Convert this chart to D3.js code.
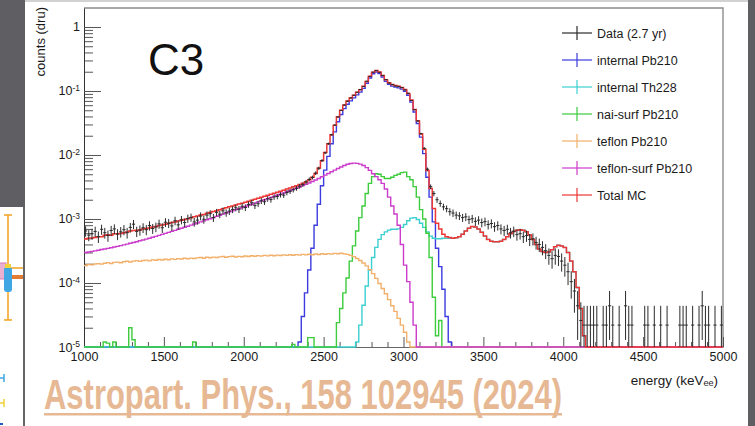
<!DOCTYPE html>
<html>
<head>
<meta charset="utf-8">
<script src="https://cdn.jsdelivr.net/npm/d3@7"></script>
<style>
  html, body { margin: 0; padding: 0; background: #fff; }
  svg { display: block; }
  text { font-family: "Liberation Sans", Arial, Helvetica, sans-serif; }
</style>
</head>
<body>
<svg id="chart" width="755" height="426"></svg>
<script>
// ---------------- data ----------------
// energy binning (keV_ee), 20 keV bins from 1000 to 5000
const energyMin = 1000, energyMax = 5000, binWidth = 20;
const countsMin = 1e-5, countsMax = 1.98;
const energyTickLabels = [1000, 1500, 2000, 2500, 3000, 3500, 4000, 4500, 5000];
const countsTickExponents = [0, -1, -2, -3, -4, -5];
// dru corresponding to a single event in one bin (sets the statistical error bars)
const druPerCount = 2.2e-5;

// measured spectrum, C3 crystal, 2.7 yr (dru), one value per bin starting at 1000 keV
const dataCounts = [
  6.5e-4, 5.6e-4, 5.9e-4, 6.4e-4, 5.3e-4, 6.9e-4, 6.1e-4, 5.5e-4, 6.6e-4, 7.0e-4,
  5.8e-4, 6.3e-4, 6.8e-4, 6.1e-4, 7.4e-4, 8.3e-4, 6.4e-4, 6.7e-4, 7.3e-4, 6.8e-4,
  7.9e-4, 7.1e-4, 7.5e-4, 8.4e-4, 7.3e-4, 8.9e-4, 8.6e-4, 7.8e-4, 9.4e-4, 8.1e-4,
  9.7e-4, 8.8e-4, 1.02e-3, 1.06e-3, 9.0e-4, 9.6e-4, 1.11e-3, 9.9e-4, 1.15e-3, 1.21e-3,
  1.05e-3, 1.27e-3, 1.19e-3, 1.34e-3, 1.25e-3, 1.33e-3, 1.41e-3, 1.50e-3, 1.42e-3, 1.58e-3,
  1.51e-3, 1.69e-3, 1.80e-3, 1.62e-3, 1.73e-3, 1.92e-3, 1.86e-3, 2.07e-3, 2.01e-3, 2.21e-3,
  2.25e-3, 2.40e-3, 2.36e-3, 2.59e-3, 2.70e-3, 2.85e-3, 3.02e-3, 3.25e-3, 3.45e-3, 3.78e-3,
  4.15e-3, 4.45e-3, 5.2e-3, 6.2e-3, 8.2e-3, 1.08e-2, 1.50e-2, 2.07e-2, 2.92e-2, 3.93e-2,
  4.97e-2, 6.02e-2, 6.93e-2, 7.8e-2, 8.58e-2, 9.55e-2, 0.105, 0.118, 0.142, 0.169,
  0.197, 0.209, 0.196, 0.175, 0.151, 0.133, 0.126, 0.120, 0.118, 0.113,
  0.104, 0.092, 0.071, 0.051, 0.034, 0.0215, 0.0127, 0.0060, 0.0032,
  2.5e-3, 2.0e-3, 1.75e-3, 1.55e-3, 1.45e-3, 1.30e-3, 1.24e-3, 1.15e-3, 1.12e-3, 1.05e-3,
  1.08e-3, 9.8e-4, 1.01e-3, 9.2e-4, 9.6e-4, 8.8e-4, 9.1e-4, 8.2e-4, 8.5e-4, 7.6e-4,
  7.9e-4, 7.0e-4, 6.6e-4, 6.9e-4, 6.1e-4, 6.4e-4, 5.7e-4, 5.9e-4, 5.3e-4, 5.5e-4,
  4.8e-4, 4.9e-4, 4.3e-4, 4.0e-4, 3.6e-4, 3.2e-4, 2.7e-4, 2.4e-4, 2.7e-4, 2.6e-4,
  2.2e-4, 1.9e-4, 1.5e-4, 1.05e-4, 7.5e-5, 4.4e-5, 2.6e-5, 2.2e-5,
  2.2e-5, 2.2e-5, 2.2e-5, 2.2e-5, 0, 2.2e-5, 2.2e-5, 4.4e-5, 2.2e-5, 0,
  2.2e-5, 0, 4.4e-5, 2.2e-5, 2.2e-5, 0, 0, 0, 2.2e-5, 2.2e-5,
  0, 2.2e-5, 0, 2.2e-5, 0, 2.2e-5, 0, 0, 0, 2.2e-5,
  2.2e-5, 2.2e-5, 0, 2.2e-5, 0, 2.2e-5, 4.4e-5, 2.2e-5, 2.2e-5, 0,
  2.2e-5, 0, 2.2e-5
];

// internal Pb210 (dru), bins from 2340 keV
const internalPb210Start = 2340;
const internalPb210 = [
  1.2e-5, 3e-5, 7e-5, 1.6e-4, 3.5e-4, 8e-4, 1.7e-3, 3.3e-3, 5.8e-3, 9.5e-3,
  1.5e-2, 2.3e-2, 3.3e-2, 4.3e-2, 5.3e-2, 6.2e-2, 7.0e-2, 7.8e-2, 8.7e-2, 9.6e-2,
  0.110, 0.132, 0.160, 0.186, 0.198, 0.188, 0.165, 0.142, 0.127, 0.119,
  0.115, 0.112, 0.107, 0.099, 0.086, 0.067, 0.047, 0.031, 0.019, 0.0105,
  4.5e-3, 2.2e-3, 9e-4, 3.5e-4, 1.8e-4, 8e-5, 3e-5, 1.2e-5
];

// internal Th228 (dru), bins from 2700 keV
const internalTh228Start = 2700;
const internalTh228 = [
  1.2e-5, 2.2e-5, 4.5e-5, 9e-5, 1.6e-4, 2.5e-4, 3.6e-4, 4.8e-4, 5.7e-4, 6.3e-4,
  6.7e-4, 6.9e-4, 6.9e-4, 7.0e-4, 7.4e-4, 8.2e-4, 9.4e-4, 1.03e-3, 1.05e-3, 9.8e-4,
  8.6e-4, 7.4e-4, 6.3e-4, 5.4e-4, 5.0e-4, 4.9e-4, 4.9e-4, 5.0e-4, 5.0e-4, 5.0e-4,
  5.0e-4, 5.1e-4, 5.3e-4, 5.8e-4, 6.5e-4, 7.2e-4, 7.6e-4, 7.5e-4, 7.0e-4, 6.2e-4,
  5.4e-4, 4.8e-4, 4.5e-4, 4.4e-4, 4.4e-4, 4.5e-4, 4.8e-4, 5.3e-4, 5.9e-4, 6.4e-4,
  6.7e-4, 6.8e-4, 6.7e-4, 6.3e-4, 5.6e-4, 4.8e-4, 4.0e-4, 3.4e-4, 3.1e-4, 3.0e-4,
  3.05e-4, 3.3e-4, 3.7e-4, 3.9e-4, 3.8e-4, 3.6e-4, 3.0e-4, 2.2e-4, 1.5e-4, 8.5e-5,
  4e-5, 1.5e-5
];

// NaI surface Pb210 (dru): main peak from 2560 keV plus isolated low-energy bins
const naiSurfPb210Start = 2560;
const naiSurfPb210 = [
  0, 2.4e-5, 4e-5, 7e-5, 1.2e-4, 2.2e-4, 3.8e-4, 6.5e-4, 1.05e-3, 1.6e-3,
  2.5e-3, 3.6e-3, 4.6e-3, 5.1e-3, 5.0e-3, 4.6e-3, 4.3e-3, 4.3e-3, 4.5e-3, 4.8e-3,
  5.0e-3, 5.3e-3, 5.4e-3, 4.6e-3, 4.1e-3, 3.2e-3, 2.2e-3, 1.4e-3, 1.0e-3, 6e-4,
  2.5e-4, 6e-5, 1.5e-5, 2.6e-5
];
const naiSurfLowBins = [1120, 1140, 1180, 1280, 1300, 1680, 2300, 2400, 2420];
const naiSurfLowValues = [1.2e-5, 1.15e-5, 1.2e-5, 2.0e-5, 1.3e-5, 1.2e-5, 1.1e-5, 1.4e-5, 1.4e-5];

// teflon bulk Pb210 (dru), bins from 1000 keV
const teflonPb210Start = 1000;
const teflonPb210 = [
  1.88e-4, 1.95e-4, 1.92e-4, 1.98e-4, 2.01e-4, 1.97e-4, 2.04e-4, 2.08e-4, 2.02e-4, 2.10e-4,
  2.12e-4, 2.07e-4, 2.15e-4, 2.19e-4, 2.13e-4, 2.20e-4, 2.24e-4, 2.18e-4, 2.25e-4, 2.28e-4,
  2.22e-4, 2.30e-4, 2.27e-4, 2.33e-4, 2.29e-4, 2.35e-4, 2.31e-4, 2.38e-4, 2.34e-4, 2.40e-4,
  2.37e-4, 2.43e-4, 2.39e-4, 2.45e-4, 2.41e-4, 2.47e-4, 2.50e-4, 2.44e-4, 2.52e-4, 2.48e-4,
  2.54e-4, 2.50e-4, 2.56e-4, 2.60e-4, 2.53e-4, 2.58e-4, 2.62e-4, 2.55e-4, 2.61e-4, 2.57e-4,
  2.64e-4, 2.59e-4, 2.66e-4, 2.62e-4, 2.68e-4, 2.63e-4, 2.70e-4, 2.65e-4, 2.71e-4, 2.67e-4,
  2.73e-4, 2.69e-4, 2.75e-4, 2.70e-4, 2.76e-4, 2.72e-4, 2.78e-4, 2.73e-4, 2.80e-4, 2.75e-4,
  2.81e-4, 2.77e-4, 2.84e-4, 2.79e-4, 2.86e-4, 2.81e-4, 2.88e-4, 2.83e-4, 2.90e-4, 2.86e-4,
  2.91e-4, 2.85e-4, 2.80e-4, 2.70e-4, 2.58e-4, 2.42e-4, 2.25e-4, 2.05e-4, 1.85e-4, 1.62e-4,
  1.40e-4, 1.18e-4, 9.8e-5, 8.2e-5, 6.8e-5, 5.5e-5, 4.4e-5, 3.6e-5, 2.8e-5, 2.2e-5,
  1.7e-5, 1.2e-5
];

// teflon surface Pb210 (dru), bins from 1000 keV
const teflonSurfPb210Start = 1000;
const teflonSurfPb210 = [
  3.00e-4, 3.05e-4, 3.12e-4, 3.18e-4, 3.25e-4, 3.33e-4, 3.40e-4, 3.48e-4, 3.56e-4, 3.65e-4,
  3.74e-4, 3.84e-4, 3.94e-4, 4.05e-4, 4.17e-4, 4.29e-4, 4.42e-4, 4.56e-4, 4.70e-4, 4.85e-4,
  5.01e-4, 5.18e-4, 5.36e-4, 5.55e-4, 5.75e-4, 5.96e-4, 6.18e-4, 6.41e-4, 6.65e-4, 6.90e-4,
  7.16e-4, 7.43e-4, 7.72e-4, 8.02e-4, 8.33e-4, 8.66e-4, 9.00e-4, 9.36e-4, 9.74e-4, 1.01e-3,
  1.05e-3, 1.10e-3, 1.14e-3, 1.19e-3, 1.24e-3, 1.29e-3, 1.34e-3, 1.40e-3, 1.45e-3, 1.51e-3,
  1.57e-3, 1.64e-3, 1.70e-3, 1.77e-3, 1.85e-3, 1.92e-3, 2.00e-3, 2.08e-3, 2.17e-3, 2.26e-3,
  2.35e-3, 2.45e-3, 2.55e-3, 2.66e-3, 2.78e-3, 2.90e-3, 3.03e-3, 3.17e-3, 3.32e-3, 3.48e-3,
  3.66e-3, 3.85e-3, 4.06e-3, 4.30e-3, 4.56e-3, 4.85e-3, 5.15e-3, 5.47e-3, 5.80e-3, 6.15e-3,
  6.50e-3, 6.85e-3, 7.15e-3, 7.35e-3, 7.45e-3, 7.40e-3, 7.20e-3, 6.85e-3, 6.35e-3, 5.75e-3,
  5.10e-3, 4.60e-3, 4.10e-3, 3.60e-3, 2.95e-3, 2.20e-3, 1.60e-3, 1.20e-3, 8.0e-4, 4.0e-4,
  1.9e-4, 1.05e-4, 5.0e-5, 2.2e-5, 1.0e-5
];

const legendLabels = ["Data (2.7 yr)", "internal Pb210", "internal Th228", "nai-surf Pb210",
                      "teflon Pb210", "teflon-surf Pb210", "Total MC"];
const seriesColors = ["#2b2b2b", "#3b3be0", "#3ccfd0", "#3ccc3c", "#f2b06a", "#cc3bcc", "#ee3636"];

// ---------------- binning helpers ----------------
const nBins = (energyMax - energyMin) / binWidth;
function toBins(start, values) {
  const bins = new Array(nBins).fill(0);
  const offset = Math.round((start - energyMin) / binWidth);
  values.forEach((v, i) => { if (offset + i < nBins) bins[offset + i] += v; });
  return bins;
}
const naiBins = toBins(naiSurfPb210Start, naiSurfPb210);
naiSurfLowBins.forEach((e, i) => { naiBins[Math.round((e - energyMin) / binWidth)] += naiSurfLowValues[i]; });

const components = [
  toBins(internalPb210Start, internalPb210),
  toBins(internalTh228Start, internalTh228),
  naiBins,
  toBins(teflonPb210Start, teflonPb210),
  toBins(teflonSurfPb210Start, teflonSurfPb210)
];
const totalMC = d3.range(nBins).map(i => d3.sum(components, c => c[i]));

// ---------------- drawing ----------------
const svg = d3.select("#chart");
const frameL = 84, frameR = 723, frameT = 8, frameB = 347;

const x = d3.scaleLinear().domain([energyMin, energyMax]).range([frameL, frameR]);
const y = d3.scaleLog().domain([countsMin, countsMax]).range([frameB, frameT]);
const yc = v => y(Math.max(v, countsMin));

// surrounding slide panels
svg.append("rect").attr("x", 0).attr("y", 0).attr("width", 25).attr("height", 207).attr("fill", "#5f5e62");
svg.append("rect").attr("x", 23).attr("y", 207).attr("width", 2).attr("height", 219).attr("fill", "#66656a");
svg.append("rect").attr("x", 748).attr("y", 0).attr("width", 7).attr("height", 426).attr("fill", "#5f5e62");
svg.append("rect").attr("x", 25).attr("y", 0).attr("width", 723).attr("height", 2).attr("fill", "#d2d2d2");

// neighbouring panel fragment on the left
const side = svg.append("g");
side.append("line").attr("x1", 0).attr("x2", 23).attr("y1", 268).attr("y2", 268).attr("stroke", "#f2a21e").attr("stroke-width", 1.5);
side.append("line").attr("x1", 8).attr("x2", 8).attr("y1", 215).attr("y2", 320).attr("stroke", "#f2a21e").attr("stroke-width", 1.5);
side.append("line").attr("x1", 4).attr("x2", 12).attr("y1", 215).attr("y2", 215).attr("stroke", "#f2a21e").attr("stroke-width", 1.5);
side.append("line").attr("x1", 4).attr("x2", 12).attr("y1", 320).attr("y2", 320).attr("stroke", "#f2a21e").attr("stroke-width", 1.5);
side.append("rect").attr("x", -3).attr("y", 263).attr("width", 9).attr("height", 16).attr("fill", "#eab0d0").attr("stroke", "#d77bb6");
side.append("rect").attr("x", 12).attr("y", 275).attr("width", 11).attr("height", 4).attr("fill", "#e27b34");
side.append("rect").attr("x", 4).attr("y", 267).attr("width", 8).attr("height", 25).attr("rx", 3).attr("fill", "#3fa7e4");
side.append("rect").attr("x", 5).attr("y", 264).attr("width", 6).attr("height", 4).attr("fill", "#f0d23a");
side.append("path").attr("d", "M0,378H4M4,374V382").attr("stroke", "#3fa7e4").attr("stroke-width", 1.5).attr("fill", "none");
side.append("path").attr("d", "M0,403H4M4,399V407").attr("stroke", "#f0d23a").attr("stroke-width", 1.5).attr("fill", "none");
side.append("path").attr("d", "M0,424H3").attr("stroke", "#1f5fbf").attr("stroke-width", 2);

// plot frame
svg.append("path").attr("d", `M${frameL},${frameT}H${frameR}V${frameB}`)
  .attr("fill", "none").attr("stroke", "#8c8c8c").attr("stroke-width", 1.4);

// axes
const fmtAxis = g => {
  g.selectAll("text").attr("fill", "#1a1a1a").attr("font-size", "12.5px")
    .attr("font-family", "'Liberation Sans', Arial, sans-serif");
  g.selectAll(".tick line").attr("stroke", "#555");
};

const xMinor = d3.range(energyMin + 100, energyMax, 100).filter(v => v % 500 !== 0);
svg.append("g").attr("transform", `translate(0,${frameB})`)
  .call(d3.axisBottom(x).tickValues(xMinor).tickSize(-5).tickSizeOuter(0).tickFormat(""))
  .call(g => g.select(".domain").remove())
  .call(fmtAxis);
svg.append("g").attr("transform", `translate(0,${frameB})`)
  .call(d3.axisBottom(x).tickValues(energyTickLabels).tickSize(-10).tickSizeOuter(0)
        .tickPadding(5).tickFormat(d3.format("d")))
  .call(g => g.select(".domain").attr("stroke", "#666"))
  .call(fmtAxis);

const yMinor = [];
countsTickExponents.forEach(e => d3.range(2, 10).forEach(k => {
  const v = k * Math.pow(10, e);
  if (v <= countsMax) yMinor.push(v);
}));
svg.append("g").attr("transform", `translate(${frameL},0)`)
  .call(d3.axisLeft(y).tickValues(yMinor).tickSize(-9).tickSizeOuter(0).tickFormat(""))
  .call(g => g.select(".domain").remove())
  .call(fmtAxis);
const yMajor = svg.append("g").attr("transform", `translate(${frameL},0)`)
  .call(d3.axisLeft(y).tickValues(countsTickExponents.map(e => Math.pow(10, e)))
        .tickSize(-17).tickSizeOuter(0).tickPadding(4).tickFormat(""))
  .call(g => g.select(".domain").attr("stroke", "#333"))
  .call(fmtAxis);
yMajor.selectAll(".tick text").each(function (d) {
  const e = Math.round(Math.log10(d));
  const t = d3.select(this);
  if (e === 0) { t.text("1"); return; }
  t.text("10");
  t.append("tspan").attr("dy", "-0.5em").attr("font-size", "8.5px").text(e);
});

// axis titles
svg.append("text").attr("x", 718).attr("y", 384.5).attr("text-anchor", "end")
  .attr("font-size", "13.5px").attr("fill", "#1a1a1a")
  .text("energy (keV\u2091\u2091)");
svg.append("text").attr("transform", "translate(45,7) rotate(-90)")
  .attr("text-anchor", "end").attr("font-size", "13px").attr("fill", "#1a1a1a")
  .text("counts (dru)");

// histograms
svg.append("clipPath").attr("id", "frameClip")
  .append("rect").attr("x", frameL).attr("y", frameT).attr("width", frameR - frameL).attr("height", frameB - frameT + 2);
const plot = svg.append("g").attr("clip-path", "url(#frameClip)");

function histPath(bins) {
  let d = "";
  bins.forEach((v, i) => {
    const x0 = x(energyMin + i * binWidth), x1 = x(energyMin + (i + 1) * binWidth);
    d += (i === 0 ? `M${x0},${yc(v)}` : `V${yc(v)}`) + `H${x1}`;
  });
  return d;
}

components.forEach((bins, i) => {
  plot.append("path").attr("d", histPath(bins)).attr("fill", "none")
    .attr("stroke", seriesColors[i + 1]).attr("stroke-width", 1.4);
});
plot.append("path").attr("d", histPath(totalMC)).attr("fill", "none")
  .attr("stroke", seriesColors[6]).attr("stroke-width", 1.5);

// data points with statistical error bars
const dataG = plot.append("g").attr("stroke", seriesColors[0]).attr("stroke-width", 1);
dataCounts.forEach((v, i) => {
  if (!(v > 0)) return;
  const e0 = energyMin + i * binWidth;
  const err = Math.sqrt(v * druPerCount);
  dataG.append("line").attr("x1", x(e0)).attr("x2", x(e0 + binWidth)).attr("y1", y(v)).attr("y2", y(v));
  dataG.append("line").attr("x1", x(e0 + binWidth / 2)).attr("x2", x(e0 + binWidth / 2))
    .attr("y1", yc(v - err)).attr("y2", y(v + err));
});

// label
svg.append("text").attr("x", 148).attr("y", 75).attr("font-size", "44px").attr("fill", "#111").text("C3");

// legend
const legend = svg.append("g").attr("transform", "translate(577,33)");
legendLabels.forEach((lab, i) => {
  const g = legend.append("g").attr("transform", `translate(0,${i * 27})`);
  g.append("line").attr("x1", -15).attr("x2", 15).attr("stroke", seriesColors[i]).attr("stroke-width", 1.2);
  g.append("line").attr("y1", -7).attr("y2", 7).attr("stroke", seriesColors[i]).attr("stroke-width", 1.2);
  g.append("text").attr("x", 20).attr("y", 4.5).attr("font-size", "12.5px").attr("fill", "#1a1a1a").text(lab);
});

// reference
svg.append("text").attr("x", 44).attr("y", 409)
  .attr("font-family", "'Liberation Sans Narrow', 'DejaVu Sans Condensed', sans-serif")
  .attr("font-weight", "bold").attr("font-size", "42px").attr("fill", "#e6b893")
  .attr("textLength", 518).attr("lengthAdjust", "spacingAndGlyphs")
  .text("Astropart. Phys., 158 102945 (2024)");
svg.append("rect").attr("x", 44).attr("y", 413).attr("width", 518).attr("height", 2.5).attr("fill", "#e6b893");
</script>
</body>
</html>
